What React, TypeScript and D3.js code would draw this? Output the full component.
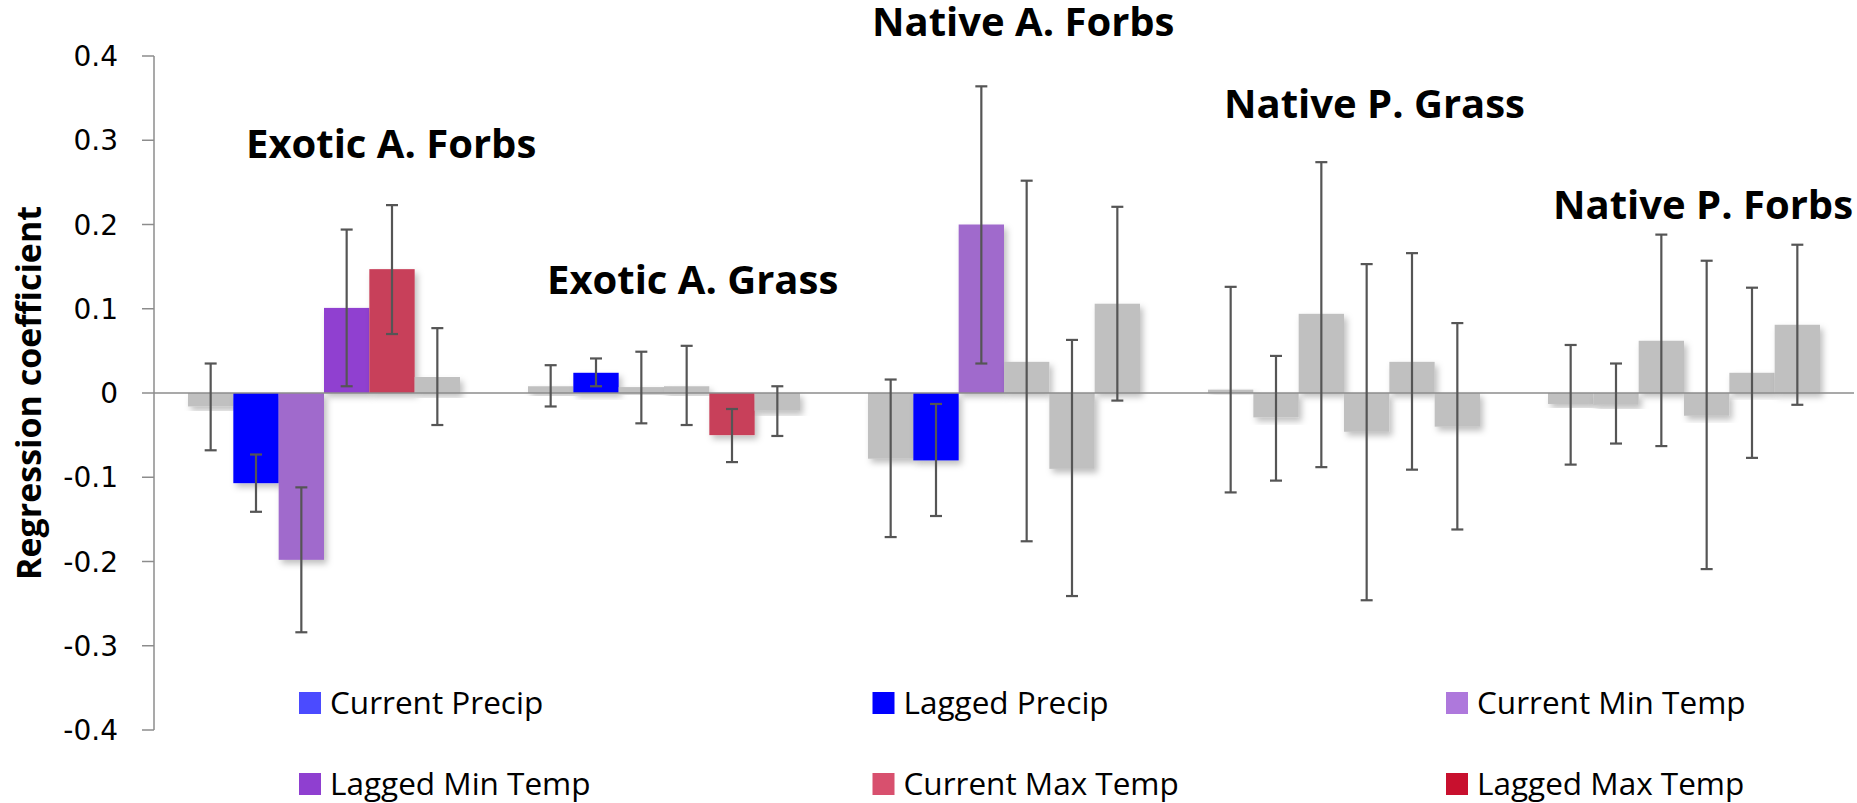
import { useEffect, useRef } from "react";
import * as d3 from "d3";

// groups (functional types) on the x axis
const groups = [
  "Exotic A. Forbs",
  "Exotic A. Grass",
  "Native A. Forbs",
  "Native P. Grass",
  "Native P. Forbs",
];

const series = [
  "Current Precip",
  "Lagged Precip",
  "Current Min Temp",
  "Lagged Min Temp",
  "Current Max Temp",
  "Lagged Max Temp",
];

// regression coefficients, one row per group, one value per series
const coef = [
  [-0.016, -0.107, -0.198, 0.101, 0.147, 0.019],
  [0.008, 0.024, 0.007, 0.008, -0.05, -0.021],
  [-0.078, -0.08, 0.2, 0.037, -0.09, 0.106],
  [0.004, -0.029, 0.094, -0.046, 0.037, -0.04],
  [-0.013, -0.014, 0.062, -0.027, 0.024, 0.081],
];

// error bar ends (upper / lower)
const errHigh = [
  [0.035, -0.073, -0.112, 0.194, 0.223, 0.077],
  [0.033, 0.041, 0.049, 0.056, -0.019, 0.008],
  [0.016, -0.013, 0.364, 0.252, 0.063, 0.221],
  [0.126, 0.044, 0.274, 0.153, 0.166, 0.083],
  [0.057, 0.035, 0.188, 0.157, 0.125, 0.176],
];
const errLow = [
  [-0.068, -0.141, -0.284, 0.008, 0.07, -0.038],
  [-0.016, 0.008, -0.036, -0.038, -0.082, -0.051],
  [-0.171, -0.146, 0.035, -0.176, -0.241, -0.009],
  [-0.118, -0.104, -0.088, -0.246, -0.091, -0.162],
  [-0.085, -0.06, -0.063, -0.209, -0.077, -0.014],
];

// which bars are significant (coloured), the rest are grey
const significant = [
  [false, true, true, true, true, false],
  [false, true, false, false, true, false],
  [false, true, true, false, false, false],
  [false, false, false, false, false, false],
  [false, false, false, false, false, false],
];

// group label baselines, in coefficient units
const titleLevel = [0.279, 0.117, 0.424, 0.327, 0.206];

const yTicks = [0.4, 0.3, 0.2, 0.1, 0, -0.1, -0.2, -0.3, -0.4];
const yTickLabels = ["0.4", "0.3", "0.2", "0.1", "0", "-0.1", "-0.2", "-0.3", "-0.4"];

const barColors = ["#4b4bff", "#0000ff", "#a06acc", "#9040d0", "#c8405a", "#c8102e"];
const legendColors = ["#4b4bff", "#0000ff", "#ae78dc", "#8f3fd0", "#d8506e", "#c8102e"];
const grey = "#c0c0c0";

// horizontal nudge of each group label from its band start (px)
const titleNudge = [92, 53, 38, 50, 39];

export default function App() {
  const ref = useRef<SVGSVGElement>(null);

  useEffect(() => {
    const width = 1857;
    const height = 803;
    const svg = d3.select(ref.current);
    svg.selectAll("*").remove();
    svg.attr("width", width).attr("height", height);

    const left = 154;
    const right = 1854;

    const y = d3.scaleLinear().domain([-0.4, 0.4]).range([730, 56]);
    const x0 = d3.scaleBand<string>().domain(groups).range([left, right]).padding(0);
    const x1 = d3
      .scaleBand<string>()
      .domain(series)
      .range([0, x0.bandwidth()])
      .paddingInner(0)
      .paddingOuter(0.75);

    const defs = svg.append("defs");
    defs
      .append("filter")
      .attr("id", "shadow")
      .attr("x", "-20%")
      .attr("y", "-20%")
      .attr("width", "150%")
      .attr("height", "150%")
      .append("feDropShadow")
      .attr("dx", 3)
      .attr("dy", 4)
      .attr("stdDeviation", 3)
      .attr("flood-color", "#000")
      .attr("flood-opacity", 0.25);

    // y axis
    const axis = svg.append("g");
    axis
      .append("line")
      .attr("x1", left)
      .attr("x2", left)
      .attr("y1", y(0.4))
      .attr("y2", y(-0.4))
      .attr("stroke", "#8c8c8c")
      .attr("stroke-width", 1.5);
    axis
      .selectAll("line.tick")
      .data(yTicks)
      .join("line")
      .attr("class", "tick")
      .attr("x1", left - 12)
      .attr("x2", left)
      .attr("y1", (d) => y(d))
      .attr("y2", (d) => y(d))
      .attr("stroke", "#8c8c8c")
      .attr("stroke-width", 1.5);
    axis
      .selectAll("text")
      .data(yTicks)
      .join("text")
      .attr("x", left - 36)
      .attr("y", (d) => y(d))
      .attr("dy", "0.36em")
      .attr("text-anchor", "end")
      .attr("font-family", "DejaVu Sans")
      .attr("font-size", 28)
      .attr("fill", "#000")
      .text((d, i) => yTickLabels[i]);

    svg
      .append("text")
      .attr("transform", `translate(41,${y(0)}) rotate(-90)`)
      .attr("text-anchor", "middle")
      .attr("font-family", "Open Sans")
      .attr("font-weight", 700)
      .attr("font-size", 34)
      .text("Regression coefficient");

    // bars
    const rows = groups.flatMap((g, gi) =>
      series.map((s, si) => ({
        g,
        s,
        gi,
        si,
        v: coef[gi][si],
        hi: errHigh[gi][si],
        lo: errLow[gi][si],
        sig: significant[gi][si],
      }))
    );

    svg
      .append("g")
      .selectAll("rect")
      .data(rows)
      .join("rect")
      .attr("x", (d) => x0(d.g)! + x1(d.s)!)
      .attr("width", x1.bandwidth())
      .attr("y", (d) => y(Math.max(0, d.v)))
      .attr("height", (d) => Math.abs(y(d.v) - y(0)))
      .attr("fill", (d) => (d.sig ? barColors[d.si] : grey))
      .attr("filter", "url(#shadow)");

    // zero line
    svg
      .append("line")
      .attr("x1", left)
      .attr("x2", right)
      .attr("y1", y(0))
      .attr("y2", y(0))
      .attr("stroke", "#8c8c8c")
      .attr("stroke-width", 1.5);

    // error bars
    const eb = svg
      .append("g")
      .attr("stroke", "#555")
      .attr("stroke-width", 2.2)
      .selectAll("g")
      .data(rows)
      .join("g")
      .attr("transform", (d) => `translate(${x0(d.g)! + x1(d.s)! + x1.bandwidth() / 2},0)`);
    eb.append("line").attr("y1", (d) => y(d.hi)).attr("y2", (d) => y(d.lo));
    eb.append("line").attr("x1", -6).attr("x2", 6).attr("y1", (d) => y(d.hi)).attr("y2", (d) => y(d.hi));
    eb.append("line").attr("x1", -6).attr("x2", 6).attr("y1", (d) => y(d.lo)).attr("y2", (d) => y(d.lo));

    // group titles
    svg
      .append("g")
      .selectAll("text")
      .data(groups)
      .join("text")
      .attr("x", (d, i) => x0(d)! + titleNudge[i])
      .attr("y", (d, i) => y(titleLevel[i]))
      .attr("font-family", "Open Sans")
      .attr("font-weight", 700)
      .attr("font-size", 40)
      .text((d) => d);

    // legend, 3 columns x 2 rows
    const legX = d3.scalePoint<number>().domain([0, 1, 2]).range([299, 1446]);
    const legY = d3.scalePoint<number>().domain([0, 1]).range([703, 784]);
    const leg = svg
      .append("g")
      .selectAll("g")
      .data(series)
      .join("g")
      .attr("transform", (d, i) => `translate(${legX(i % 3)},${legY(Math.floor(i / 3))})`);
    leg
      .append("rect")
      .attr("x", 0)
      .attr("y", -11)
      .attr("width", 22)
      .attr("height", 22)
      .attr("fill", (d, i) => legendColors[i]);
    leg
      .append("text")
      .attr("x", 31)
      .attr("dy", "0.36em")
      .attr("font-family", "Open Sans")
      .attr("font-size", 31.5)
      .text((d) => d);
  }, []);

  return (
    <svg
      ref={ref}
      style={{ position: "absolute", left: 0, top: 0, background: "#fff" }}
      role="img"
      aria-label="Regression coefficients by functional group"
    />
  );
}
